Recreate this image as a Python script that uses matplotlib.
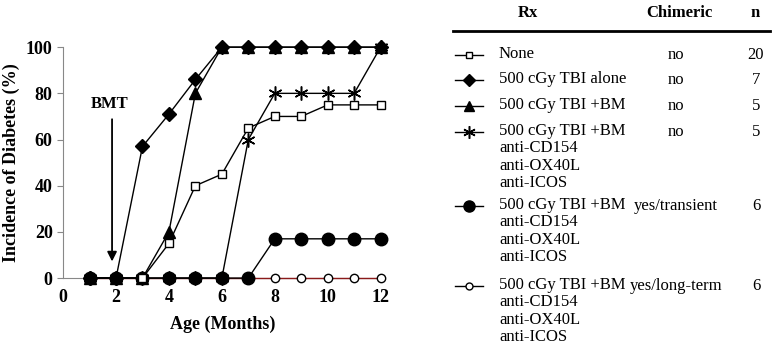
import matplotlib.pyplot as plt
from matplotlib.lines import Line2D

plt.rcParams['font.family'] = ['Liberation Serif', 'DejaVu Serif']

months = [1, 2, 3, 4, 5, 6, 7, 8, 9, 10, 11, 12]
none_vals = [0, 0, 0, 15, 40, 45, 65, 70, 70, 75, 75, 75]
tbi_alone = [0, 0, 57, 71, 86, 100, 100, 100, 100, 100, 100, 100]
tbi_bm = [0, 0, 0, 20, 80, 100, 100, 100, 100, 100, 100, 100]
tbi_bm_ab = [0, 0, 0, 0, 0, 0, 60, 80, 80, 80, 80, 100]
transient = [0, 0, 0, 0, 0, 0, 0, 17, 17, 17, 17, 17]
long_term = [0, 0, 0, 0, 0, 0, 0, 0, 0, 0, 0, 0]

rx_labels = ['None', '500 cGy TBI alone', '500 cGy TBI +BM',
             '500 cGy TBI +BM\nanti-CD154\nanti-OX40L\nanti-ICOS',
             '500 cGy TBI +BM\nanti-CD154\nanti-OX40L\nanti-ICOS',
             '500 cGy TBI +BM\nanti-CD154\nanti-OX40L\nanti-ICOS']
chimeric = ['no', 'no', 'no', 'no', 'yes/transient', 'yes/long-term']
n_vals = ['20', '7', '5', '5', '6', '6']

fig = plt.figure(figsize=(7.79, 3.52), dpi=100)
ax = fig.add_axes([0.081, 0.21, 0.411, 0.656])

styles = [
    dict(marker='s', mfc='white', mec='black', ms=6, color='black'),
    dict(marker='D', mfc='black', mec='black', ms=7, color='black'),
    dict(marker='^', mfc='black', mec='black', ms=8, color='black'),
    dict(marker=(6, 2, 0), mfc='black', mec='black', ms=10, mew=1.1, color='black'),
    dict(marker='o', mfc='black', mec='black', ms=9, color='black'),
    dict(marker='o', mfc='white', mec='black', ms=6, color='#8b1a1a'),
]
all_series = [none_vals, tbi_alone, tbi_bm, tbi_bm_ab, transient, long_term]
for idx in [5, 4, 3, 2, 0, 1]:
    ax.plot(months, all_series[idx], lw=1, clip_on=False, zorder=3, **styles[idx])

ax.set_xlim(0, 12.1)
ax.set_ylim(0, 100)
ax.set_xticks(range(0, 13, 2))
ax.set_yticks(range(0, 101, 20))
for lab in ax.get_xticklabels() + ax.get_yticklabels():
    lab.set_fontweight('bold')
    lab.set_fontsize(13)
ax.tick_params(axis='x', length=0, pad=8)
ax.tick_params(axis='y', length=4, color='#888888', direction='out')
ax.spines['top'].set_visible(False)
ax.spines['right'].set_visible(False)
ax.spines['left'].set_color('#888888')
ax.spines['bottom'].set_color('#888888')
ax.set_xlabel('Age (Months)', fontweight='bold', fontsize=13, labelpad=7)
ax.set_ylabel('Incidence of Diabetes (%)', fontweight='bold', fontsize=13, labelpad=4)

ax.annotate('', xy=(1.85, 6), xytext=(1.85, 70),
            arrowprops=dict(arrowstyle='-|>', color='black', lw=1.3, mutation_scale=14))
ax.text(1.75, 72, 'BMT', ha='center', va='bottom', fontweight='bold', fontsize=12)

# legend table in pixel coordinates
lg = fig.add_axes([0, 0, 1, 1], facecolor='none')
lg.set_xlim(0, 779)
lg.set_ylim(352, 0)
lg.axis('off')
lg.text(528, 13, 'Rx', ha='center', va='center', fontweight='bold', fontsize=12)
lg.text(679, 13, 'Chimeric', ha='center', va='center', fontweight='bold', fontsize=12)
lg.text(755, 13, 'n', ha='center', va='center', fontweight='bold', fontsize=12)
lg.plot([453, 770], [31, 31], color='black', lw=2)

row_y = [55, 80, 106, 132, 206, 286]
for i in range(6):
    y = row_y[i]
    st = dict(styles[i])
    st['color'] = 'black'
    st['ms'] = st['ms'] - 1
    lg.add_line(Line2D([455, 469, 483], [y, y, y], lw=1, markevery=[1], **st))
    lg.text(499, y - 9, rx_labels[i], ha='left', va='top', fontsize=12,
            linespacing=1.12)
    lg.text(676, y, chimeric[i], ha='center', va='center', fontsize=12)
    lg.text(756, y, n_vals[i], ha='center', va='center', fontsize=12)

fig.savefig('out.png', dpi=100)
